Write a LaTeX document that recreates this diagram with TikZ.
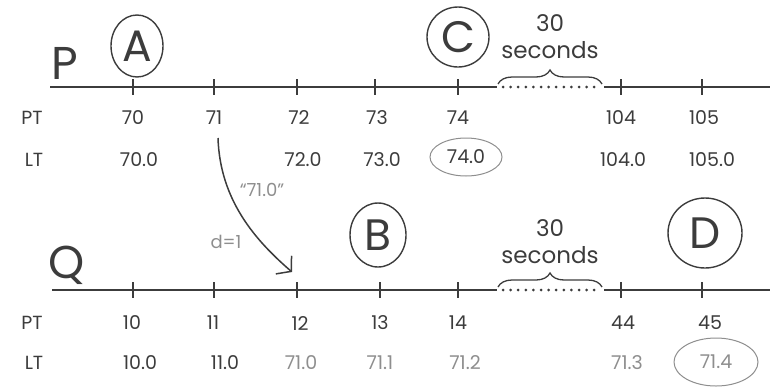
\documentclass[tikz,border=0pt]{standalone}
\usepackage{fontspec}
\setmainfont{Poppins}
\usetikzlibrary{shapes.geometric, arrows.meta, positioning, decorations.pathreplacing}
\definecolor{ink}{HTML}{3C3C3C}
\definecolor{pencil}{HTML}{8E8E8E}

\begin{document}
\begin{tikzpicture}[
    x=1pt, y=-1pt,
    every node/.style={text=ink},
    axis/.style={draw=ink, line width=1.6pt},
    gapline/.style={draw=ink, line width=3pt, dash pattern=on 0pt off 7.6pt, line cap=round},
    tickmark/.style={draw=ink, line width=1.3pt},
    val/.style={font=\fontsize{19}{22}\selectfont, inner sep=1pt},
    oldval/.style={val, text=pencil},
    lane/.style={font=\fontsize{46}{50}\selectfont, inner sep=0pt},
    event/.style={ellipse, draw=ink, line width=1.4pt, inner sep=0pt,
                  font=\fontsize{44}{48}\selectfont},
    ring/.style={ellipse, draw=pencil, line width=1pt, inner sep=0pt},
    gaptext/.style={font=\fontsize{23}{27}\selectfont, align=center, inner sep=0pt},
    gapbrace/.style={decorate, decoration={brace, amplitude=14pt}, draw=ink, line width=1.3pt},
    msgarr/.style={-{Straight Barb[length=10pt, width=24pt]}, line width=1.5pt, draw=ink},
    msglbl/.style={font=\fontsize{18}{20}\selectfont, text=pencil, inner sep=0pt}
  ]
  \useasboundingbox (0,0) rectangle (770,389);

  % process P
  \coordinate (pstart) at (50,87);
  \coordinate (pgapL)  at (497,87);
  \coordinate (pgapR)  at (604,87);
  \coordinate (pend)   at (770,87);
  \draw[axis] (pstart) -- (pgapL);
  \draw[gapline] (503,87) -- (600,87);
  \draw[axis] (pgapR) -- (pend);
  \draw[tickmark] (133,79) -- (133,95);
  \draw[tickmark] (214,79) -- (214,95);
  \draw[tickmark] (297,79) -- (297,95);
  \draw[tickmark] (375,79) -- (375,95);
  \draw[tickmark] (458,79) -- (458,95);
  \draw[tickmark] (621,79) -- (621,95);
  \draw[tickmark] (702,79) -- (702,95);

  \node[lane] (laneP) at (65,63) {P};
  \node[event, minimum width=52pt, minimum height=62pt] (evA) at (137,46) {A};
  \node[event, minimum width=62pt, minimum height=60pt] (evC) at (458,37) {C};
  \node[gaptext] (gapP) at (550,37) {30\\seconds};
  \draw[gapbrace] (498,84) -- (602,84);

  \node[val] (ptP) at (32,118) {PT};
  \node[val] (ltP) at (34,160) {LT};
  \node[val] (p70)  at (133,118) {70};
  \node[val] (p71)  at (214,118) {71};
  \node[val] (p72)  at (299,118) {72};
  \node[val] (p73)  at (377,118) {73};
  \node[val] (p74)  at (458,118) {74};
  \node[val] (p104) at (621,118) {104};
  \node[val] (p105) at (704,118) {105};
  \node[val] (l70)  at (139,160) {70.0};
  \node[val] (l72)  at (303,160) {72.0};
  \node[val] (l73)  at (382,160) {73.0};
  \node[val, ring, minimum width=72pt, minimum height=38pt] (l74) at (466,157) {74.0};
  \node[val] (l104) at (623,160) {104.0};
  \node[val] (l105) at (712,160) {105.0};

  % process Q
  \coordinate (qstart) at (52,290);
  \coordinate (qgapL)  at (497,290);
  \coordinate (qgapR)  at (604,290);
  \coordinate (qend)   at (770,290);
  \draw[axis] (qstart) -- (qgapL);
  \draw[gapline] (503,290) -- (600,290);
  \draw[axis] (qgapR) -- (qend);
  \draw[tickmark] (133,282) -- (133,298);
  \draw[tickmark] (214,282) -- (214,298);
  \draw[tickmark] (297,282) -- (297,298);
  \draw[tickmark] (380,282) -- (380,298);
  \draw[tickmark] (458,282) -- (458,298);
  \draw[tickmark] (621,282) -- (621,298);
  \draw[tickmark] (702,282) -- (702,298);

  \node[lane] (laneQ) at (67,265) {Q};
  \node[event, minimum width=56pt, minimum height=64pt] (evB) at (378,235) {B};
  \node[event, minimum width=74pt, minimum height=70pt] (evD) at (705,233) {D};
  \node[gaptext] (gapQ) at (550,242) {30\\seconds};
  \draw[gapbrace] (498,287) -- (602,287);

  \node[val] (ptQ) at (32,323) {PT};
  \node[val] (ltQ) at (34,363) {LT};
  \node[val] (q10) at (132,323) {10};
  \node[val] (q11) at (213,323) {11};
  \node[val] (q12) at (300,323) {12};
  \node[val] (q13) at (380,323) {13};
  \node[val] (q14) at (458,323) {14};
  \node[val] (q44) at (623,323) {44};
  \node[val] (q45) at (710,323) {45};
  \node[val]    (m10) at (140,363) {10.0};
  \node[val]    (m11) at (225,363) {11.0};
  \node[oldval] (m12) at (301,363) {71.0};
  \node[oldval] (m13) at (380,363) {71.1};
  \node[oldval] (m14) at (465,363) {71.2};
  \node[oldval] (m44) at (627,363) {71.3};
  \node[oldval, ring, minimum width=84pt, minimum height=48pt] (m45) at (716,362) {71.4};

  % message from P to Q
  \coordinate (send) at (218,138);
  \coordinate (recv) at (292,272);
  \draw[msgarr] (send) .. controls (220,200) and (255,240) .. (recv);
  \node[msglbl] (msgval) at (262,190) {``71.0''};
  \node[msglbl] (msgd)   at (226,242) {d=1};
\end{tikzpicture}
\end{document}
